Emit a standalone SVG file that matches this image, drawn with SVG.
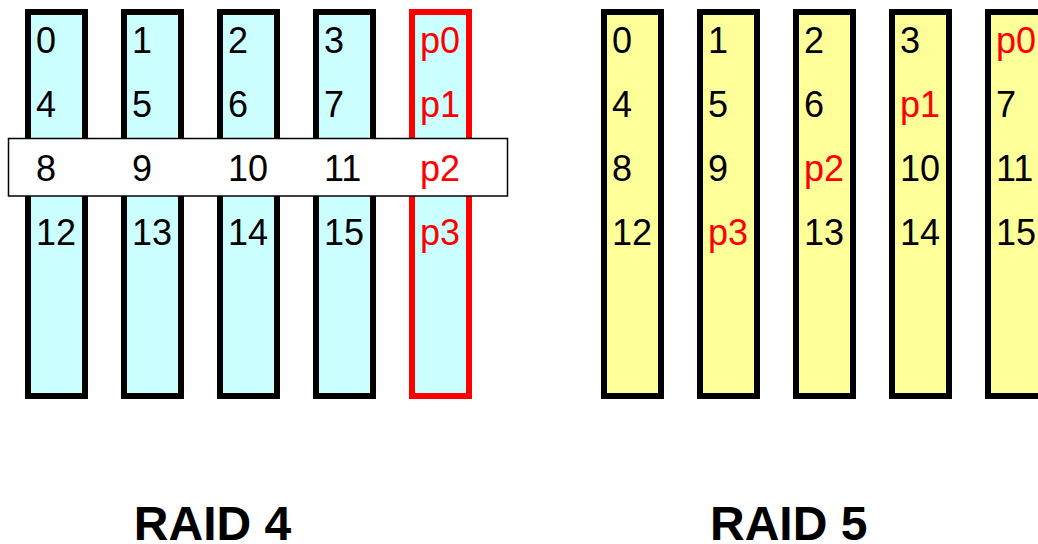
<svg xmlns="http://www.w3.org/2000/svg" width="1038" height="544" viewBox="0 0 1038 544">
<style>
.disk4{fill:#CCFFFF;stroke:#000;stroke-width:6}
.par4{fill:#CCFFFF;stroke:#FF0000;stroke-width:6}
.disk5{fill:#FFFF99;stroke:#000;stroke-width:6}
.stripe{fill:#FFFFFF;stroke:#000;stroke-width:1.5}
text{font-family:"Liberation Sans",Arial,sans-serif;font-size:36px;fill:#000}
text.p{fill:#FF0000}
text.title{font-size:48px;font-weight:bold;text-anchor:middle}
</style>
<rect width="1038" height="544" fill="#FFFFFF"/>
<g id="raid4">
<g id="r4d0"><rect class="disk4" x="28" y="12" width="57" height="384"/><text x="36" y="53">0</text><text x="36" y="117">4</text><text x="36" y="245">12</text></g>
<g id="r4d1"><rect class="disk4" x="124" y="12" width="57" height="384"/><text x="132" y="53">1</text><text x="132" y="117">5</text><text x="132" y="245">13</text></g>
<g id="r4d2"><rect class="disk4" x="220" y="12" width="57" height="384"/><text x="228" y="53">2</text><text x="228" y="117">6</text><text x="228" y="245">14</text></g>
<g id="r4d3"><rect class="disk4" x="316" y="12" width="57" height="384"/><text x="324" y="53">3</text><text x="324" y="117">7</text><text x="324" y="245">15</text></g>
<g id="r4p"><rect class="par4" x="412" y="12" width="57" height="384"/><text class="p" x="420" y="53">p0</text><text class="p" x="420" y="117">p1</text><text class="p" x="420" y="245">p3</text></g>
<g id="r4stripe"><rect class="stripe" x="8.5" y="138.5" width="499" height="57.5"/><text x="36" y="181">8</text><text x="132" y="181">9</text><text x="228" y="181">10</text><text x="324" y="181">11</text><text class="p" x="420" y="181">p2</text></g>
<g id="r4title"><text class="title" x="212.5" y="540">RAID 4</text></g>
</g>
<g id="raid5">
<g id="r5d0"><rect class="disk5" x="604" y="12" width="57" height="384"/><text x="612" y="53">0</text><text x="612" y="117">4</text><text x="612" y="181">8</text><text x="612" y="245">12</text></g>
<g id="r5d1"><rect class="disk5" x="700" y="12" width="57" height="384"/><text x="708" y="53">1</text><text x="708" y="117">5</text><text x="708" y="181">9</text><text class="p" x="708" y="245">p3</text></g>
<g id="r5d2"><rect class="disk5" x="796" y="12" width="57" height="384"/><text x="804" y="53">2</text><text x="804" y="117">6</text><text class="p" x="804" y="181">p2</text><text x="804" y="245">13</text></g>
<g id="r5d3"><rect class="disk5" x="892" y="12" width="57" height="384"/><text x="900" y="53">3</text><text class="p" x="900" y="117">p1</text><text x="900" y="181">10</text><text x="900" y="245">14</text></g>
<g id="r5d4"><rect class="disk5" x="988" y="12" width="57" height="384"/><text class="p" x="996" y="53">p0</text><text x="996" y="117">7</text><text x="996" y="181">11</text><text x="996" y="245">15</text></g>
<g id="r5title"><text class="title" x="788.7" y="540">RAID 5</text></g>
</g>
</svg>
